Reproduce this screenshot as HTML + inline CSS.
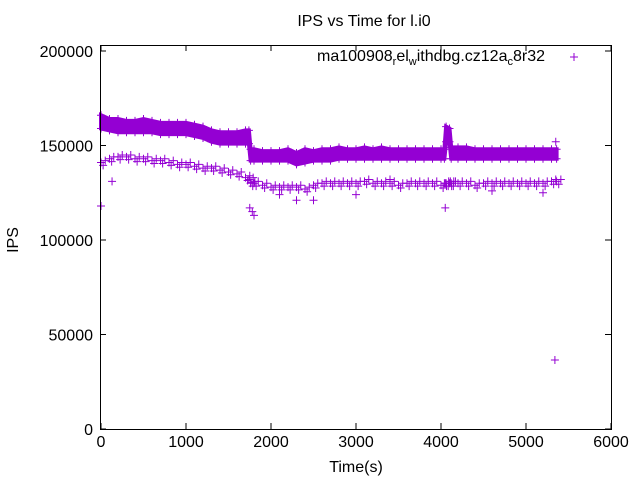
<!DOCTYPE html>
<html><head><meta charset="utf-8"><style>
body{margin:0;background:#fff}
svg{display:block;font-family:"Liberation Sans",sans-serif;font-size:16px}
</style></head><body>
<svg id="chart" width="640" height="480" viewBox="0 0 640 480" xmlns="http://www.w3.org/2000/svg">
<rect width="640" height="480" fill="#fff"/>
<text x="364" y="26" text-anchor="middle">IPS vs Time for l.i0</text>
<text x="356" y="472" text-anchor="middle">Time(s)</text>
<text x="18" y="240" text-anchor="middle" transform="rotate(-90 18 240)">IPS</text>
<g id="axes"></g>
<g id="marks"></g>
<g>
<text x="545" y="61" text-anchor="end">ma100908<tspan font-size="11" dy="4">r</tspan><tspan dy="-4">el</tspan><tspan font-size="11" dy="4">w</tspan><tspan dy="-4">ithdbg.cz12a</tspan><tspan font-size="11" dy="4">c</tspan><tspan dy="-4">8r32</tspan></text>
<path d="M570 57h8M574 53v8" stroke="#9400d3" stroke-width="1"/>
</g>
<rect x="100.5" y="45.5" width="511" height="384" fill="none" stroke="#000"/>
</svg>
<script>
const xTicks=[0,1000,2000,3000,4000,5000,6000];
const yTicks=[0,50000,100000,150000,200000];
const times=[0,100,200,300,400,500,600,700,800,900,1000,1100,1200,1300,1400,1500,1600,1700,1740,1760,1800,1900,2000,2100,2200,2300,2400,2500,2600,2700,2800,2900,3000,3100,3200,3300,3400,3500,3600,3700,3800,3900,4000,4040,4060,4100,4120,4200,4300,4400,4500,4600,4700,4800,4900,5000,5100,5200,5300,5360];
const upperTop=[166,164,164,163,163,164,163,162,162,162,162,161,160,158,157,157,157,158,158,148,148,147,147,147,148,146,148,147,148,148,149,148,148,149,148,149,148,148,148,148,148,148,148,148,160,159,149,149,149,148,148,148,148,148,148,148,148,148,148,148];
const upperBot=[159,158,157,157,157,157,157,156,156,156,156,155,154,152,151,151,151,151,151,142,142,142,142,142,142,140,141,142,142,142,143,143,143,143,143,143,143,143,143,143,143,143,143,143,152,152,143,143,143,143,143,143,143,143,143,143,143,143,143,143];
const lower=[141,143,144,144,143,143,142,142,141,140,140,139,138,138,137,136,135,133,132,130,130,129,128,128,128,128,127,129,130,130,130,130,130,131,130,130,130,129,130,130,130,130,129,130,130,130,130,130,130,129,130,130,130,130,130,130,130,130,131,131];
const outT=[0,130,1750,1780,1800,4050,5340,5350,2100,2500,2300,3400,4600,5200,3000];
const outV=[118000,131000,117000,115000,113000,117000,36500,152000,124000,121000,121000,132000,126000,125000,124000];
const X=t=>101+t*(611-101)/6000, Y=v=>429-v*(429-51)/200000;
const ns="http://www.w3.org/2000/svg",axes=document.getElementById('axes'),marks=document.getElementById('marks');
function mk(p,tag,a){const e=document.createElementNS(ns,tag);for(const k in a)e.setAttribute(k,a[k]);p.appendChild(e);return e;}
xTicks.forEach(t=>{const x=X(t);
 const l=mk(axes,'path',{d:`M${x} 429v-6M${x} 45v6`,stroke:'#000'});
 
 
 const s=mk(axes,'text',{x:x,y:447,'text-anchor':'middle'});s.textContent=t;
 
 });
yTicks.forEach(v=>{const y=Y(v);
 const l=mk(axes,'path',{d:`M100 ${y}h6M611 ${y}h-6`,stroke:'#000'});
 
 
 const s=mk(axes,'text',{x:93,y:y+6,'text-anchor':'end'});s.textContent=v;
 
 });
let d='M'+times.map((t,i)=>X(t)+' '+Y(upperTop[i]*1000)).join('L')+'L'+times.slice().reverse().map((t,j)=>{const i=times.length-1-j;return X(t)+' '+Y(upperBot[i]*1000);}).join('L')+'Z';
const band=mk(marks,'path',{d:d,fill:'#9400d3',stroke:'#9400d3','stroke-width':4});


function cross(t,v,name){const x=X(t),y=Y(v);
 const c=mk(marks,'path',{d:`M${x-4} ${y}h8M${x} ${y-4}v8`,stroke:'#9400d3','stroke-width':1});
 
 }
times.forEach((t,i)=>{cross(t,upperTop[i]*1000,'upper-point');cross(t,upperBot[i]*1000,'upper-point');
 cross(t,lower[i]*1000,'lower-point');cross(t+50,lower[i]*1000+1000,'lower-point');cross(t+25,lower[i]*1000-1500,'lower-point');});
outT.forEach((t,i)=>cross(t,outV[i],'outlier-point'));
</script>
</body></html>
